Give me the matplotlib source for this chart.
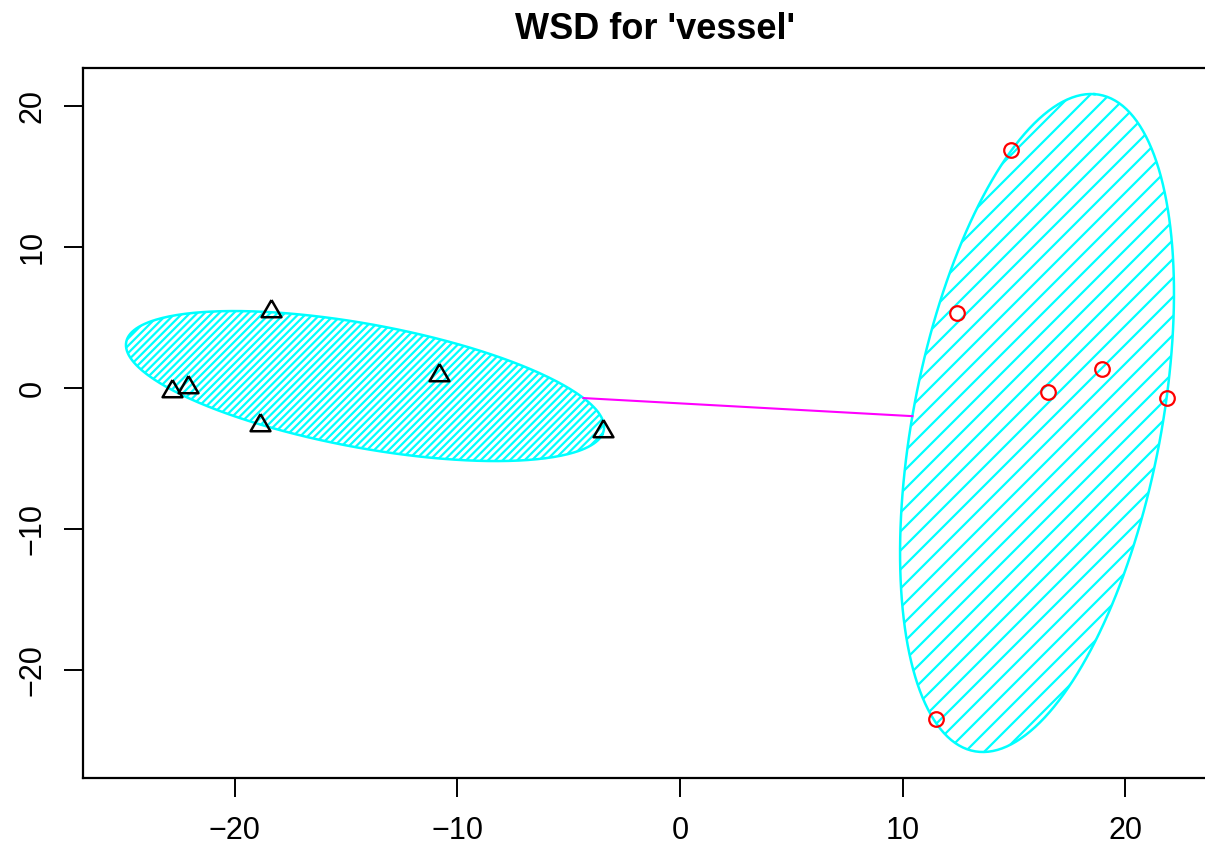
import numpy as np
import matplotlib.pyplot as plt
from matplotlib.patches import Polygon
from matplotlib.collections import LineCollection
from matplotlib.transforms import IdentityTransform

plt.rcParams['font.family'] = ['Liberation Sans', 'DejaVu Sans']

tri_x = [-18.39, -10.81, -22.83, -22.09, -18.87, -3.45]
tri_y = [5.47, 0.96, -0.22, 0.08, -2.59, -3.06]
circ_x = [14.86, 12.46, 16.55, 18.96, 21.89, 11.50]
circ_y = [16.88, 5.30, -0.30, 1.37, -0.73, -23.50]

# cluster ellipses: centre, semi axes, angle in degrees
ell_cx = [-14.15, 16.04]
ell_cy = [0.14, -2.48]
ell_a = [11.2, 23.47]
ell_b = [4.27, 5.62]
ell_ang = [-17.85, 83.69]

ticks = [-20, -10, 0, 10, 20]

hatch_gap = [7.3, 19.0]  # px between shading lines

fig = plt.figure(figsize=(12.05, 8.5), dpi=100)
ax = fig.add_axes([83/1205, 72/850, 1145/1205, 710/850])
ax.set_xlim(-26.82, 24.62)
ax.set_ylim(-27.66, 22.70)


def ellipse_pts(cx, cy, a, b, ang):
    t = np.linspace(0, 2*np.pi, 361)
    th = np.radians(ang)
    x = cx + a*np.cos(t)*np.cos(th) - b*np.sin(t)*np.sin(th)
    y = cy + a*np.cos(t)*np.sin(th) + b*np.sin(t)*np.cos(th)
    return np.column_stack([x, y])


def edge_point(i, d):
    # where the ray from the centre along d leaves ellipse i
    th = -np.radians(ell_ang[i])
    u = d[0]*np.cos(th) - d[1]*np.sin(th)
    v = d[0]*np.sin(th) + d[1]*np.cos(th)
    s = 1/np.sqrt((u/ell_a[i])**2 + (v/ell_b[i])**2)
    return ell_cx[i] + s*d[0], ell_cy[i] + s*d[1]


for i in range(2):
    pts = ellipse_pts(ell_cx[i], ell_cy[i], ell_a[i], ell_b[i], ell_ang[i])
    patch = Polygon(pts, closed=True, facecolor='none', edgecolor='none')
    ax.add_patch(patch)
    # 45 degree shading in pixel space, clipped to the ellipse
    disp = ax.transData.transform(pts)
    x0, y0 = disp.min(axis=0)
    x1, y1 = disp.max(axis=0)
    segs = []
    for c in np.arange(y0 - x1, y1 - x0, hatch_gap[i]):
        segs.append([(x0, x0 + c), (x1, x1 + c)])
    lc = LineCollection(segs, colors='#00FFFF', linewidths=1.6,
                        transform=IdentityTransform())
    ax.add_collection(lc, autolim=False)
    lc.set_clip_path(patch)
    ax.plot(pts[:, 0], pts[:, 1], color='#00FFFF', lw=1.8)

# line between the two cluster ellipses
d = np.array([ell_cx[1] - ell_cx[0], ell_cy[1] - ell_cy[0]])
p0 = edge_point(0, d)
p1 = edge_point(1, -d)
ax.plot([p0[0], p1[0]], [p0[1], p1[1]], color='#FF00FF', lw=1.5)

tri = [(0, 1), (-0.866, -0.5), (0.866, -0.5), (0, 1)]
ax.plot(tri_x, tri_y, ls='none', marker=tri, ms=16.5, mfc='none',
        mec='black', mew=1.8)
ax.plot(circ_x, circ_y, ls='none', marker='o', ms=10.5, mfc='none',
        mec='red', mew=1.6)

ax.set_xticks(ticks)
ax.set_yticks(ticks)
ax.set_xticklabels([str(t).replace('-', '\u2212') for t in ticks])
ax.set_yticklabels([str(t).replace('-', '\u2212') for t in ticks])
ax.tick_params(length=13.7, width=1.4, labelsize=22, pad=14)
ax.tick_params(axis='y', labelrotation=90, pad=12)
for lab in ax.get_yticklabels():
    lab.set_va('center')
for sp in ax.spines.values():
    sp.set_linewidth(1.6)

ax.set_title("WSD for 'vessel'", fontweight='bold', fontsize=26, pad=21)

fig.savefig('out.png', dpi=100)
